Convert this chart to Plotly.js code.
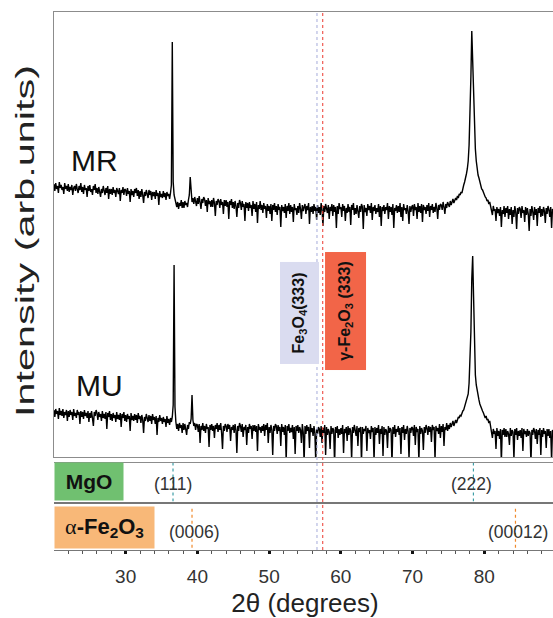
<!DOCTYPE html>
<html><head><meta charset="utf-8">
<script src="https://cdn.plot.ly/plotly-3.0.1.min.js"></script>
<style>html,body{margin:0;padding:0;overflow:hidden;background:#fff;width:553px;height:618px}</style>
</head><body><div id="chart" style="width:556px;height:618px"></div>
<script>
// 2θ sampling of the scans (degrees)
const twoThetaStart = 20;
const twoThetaStep = 0.125;

// MR scan (offset, arb. units), 20.000° … 90.000°, 8 samples per degree
const intensityMR = [
273,266,274,268,271,264,275,269, 272,267,270,263,274,268,271,266,
273,265,270,267,272,262,269,271, 266,273,268,264,271,267,274,265,
270,263,272,267,269,260,271,266, 272,265,268,262,271,267,273,264,
269,263,270,265,260,268,264,271, 267,262,269,264,271,258,268,263,
268,262,270,264,267,260,269,266, 263,269,256,267,264,270,262,268,
267,261,269,263,266,255,268,262, 266,260,268,264,269,261,267,258,
266,260,268,262,254,265,261,267, 264,259,267,262,266,257,265,261,
265,258,267,261,264,252,266,260, 263,259,266,260,264,257,265,261,
263,258,264,272,415,275,262,257, 256,250,255,248,254,251,257,249,
255,249,256,252,254,250,257,262, 280,262,255,259,253,260,256,251,
259,253,261,256,248,258,254,260, 258,251,257,245,259,253,256,250,
257,250,259,254,241,256,252,258, 256,249,258,252,255,243,257,251,
257,250,255,238,256,252,258,249, 255,248,256,251,240,254,249,257,
254,247,256,250,253,236,255,249, 254,246,255,249,252,241,256,248,
253,245,255,234,252,248,256,247, 252,244,254,248,251,239,253,246,
251,243,253,236,252,247,254,245, 251,242,253,247,250,230,252,246,
250,244,253,239,251,246,254,243, 252,245,250,235,253,247,249,242,
251,244,254,248,238,252,246,250, 253,243,251,247,254,233,250,245,
251,243,253,246,250,237,252,244, 250,242,254,247,231,251,245,253,
249,244,252,238,250,246,253,241, 252,245,250,229,251,243,254,248,
250,240,253,246,251,236,249,244, 253,245,250,232,252,247,254,242,
249,243,252,246,239,251,245,253, 250,228,252,245,249,241,253,247,
251,244,254,237,250,246,252,243, 249,245,253,240,251,231,250,246,
252,243,250,247,254,238,251,245, 250,242,253,229,249,246,252,244,
251,245,254,240,250,236,253,247, 249,243,252,246,233,251,245,250,
252,241,253,247,250,238,254,245, 251,244,253,235,252,247,250,243,
252,246,254,240,251,247,253,244, 250,245,254,249,238,252,247,253,
252,247,255,250,243,253,249,255, 253,250,256,252,255,258,254,258,
259,257,261,259,263,262,265,264, 270,272,275,278,283,288,296,312,
340,380,426,392,352,325,308,296, 288,282,279,274,271,268,267,264,
262,260,259,256,257,253,255,250, 249,242,251,246,248,236,250,244,
248,241,250,230,247,243,251,240, 249,244,251,238,248,242,250,233,
247,240,251,245,228,249,243,250, 248,239,251,244,247,235,250,242,
249,243,226,248,241,251,245,237, 250,242,248,231,249,244,251,240,
248,241,250,246,234,249,243,251, 247,240,250,229,248,244,251,242,
246
];

// MU scan (offset, arb. units), 20.000° … 90.000°, 8 samples per degree
const intensityMU = [
47,40,48,43,46,38,49,42, 46,41,48,39,45,42,47,36,
46,40,47,42,45,37,48,41, 44,39,47,42,45,33,46,40,
45,38,47,41,44,39,46,35, 44,39,46,40,31,45,41,47,
44,37,45,40,43,36,46,39, 43,38,45,28,44,40,46,37,
43,36,44,39,42,35,45,38, 42,37,44,30,43,39,45,36,
42,35,43,38,41,26,44,37, 41,36,43,37,42,34,44,38,
41,34,42,37,24,40,36,43, 40,35,42,36,41,33,43,37,
40,33,41,22,39,35,42,36, 39,33,40,35,38,30,41,34,
38,32,39,35,40,52,192,50, 35,28,33,26,34,29,32,24,
34,27,33,29,22,32,28,35, 33,38,62,37,31,34,27,33,
32,25,33,14,31,27,34,26, 31,24,33,28,30,10,32,27,
33,26,31,19,32,28,34,25, 32,27,34,24,8,31,26,33,
31,25,33,28,32,16,30,27, 32,24,33,27,4,31,26,34,
31,25,33,20,30,27,32,12, 30,24,33,28,31,18,32,26,
32,25,31,6,33,27,30,24, 31,26,33,21,32,27,34,14,
30,24,32,27,2,31,26,33, 31,23,32,26,30,11,33,25,
30,22,32,-4,31,26,33,24, 29,25,32,18,30,3,31,26,
32,24,30,27,14,33,25,-6, 31,23,32,26,30,9,33,25,
29,21,31,24,-5,28,23,30, 28,20,31,14,29,24,32,2,
30,22,28,25,8,31,23,29, 27,-8,30,24,31,19,28,22,
29,23,32,4,28,24,30,16, 31,22,29,26,-3,30,24,32,
28,21,31,11,29,25,30,-6, 30,23,28,26,31,6,29,24,
27,18,31,25,29,-4,30,22, 29,24,32,13,28,23,31,1,
30,22,28,26,9,31,24,29, 27,-7,30,23,32,20,28,25,
31,22,29,3,30,24,32,17, 28,23,31,26,-2,29,24,30,
29,21,32,12,30,25,28,-5, 31,23,29,26,7,30,24,32,
29,22,31,25,30,15,32,27, 30,-3,31,26,29,23,33,19,
31,25,33,11,30,27,34,26, 32,28,34,30,33,36,31,35,
37,34,38,40,39,42,41,44, 46,47,50,52,55,58,63,74,
92,125,178,201,160,115,82,72, 66,61,57,53,50,48,46,44,
42,39,41,37,38,34,36,31, 27,19,28,23,26,8,29,21,
26,18,28,-5,27,22,29,20, 28,20,26,23,12,29,21,27,
25,-2,28,22,29,17,26,21, 27,19,29,6,28,23,26,20,
28,21,26,24,-6,27,22,29, 26,18,28,13,27,22,29,2,
27,20,29,23,26,9,28,21, 28,19,26,-4,27,23,29,20,
24
];

const sampleNames = ['MR', 'MU'];

// (333) reference reflections (2θ, degrees)
const refPhaseLabels = ['<b>Fe<sub>3</sub>O<sub>4</sub>(333)</b>', '<b>γ-Fe<sub>2</sub>O<sub>3</sub> (333)</b>'];
const refPhasePositions = [56.67, 57.47];

// MgO substrate reflections
const mgoPositions = [36.60, 78.48];
const mgoIndices = ['(111)', '(222)'];

// α-Fe2O3 reflections
const hematitePositions = [39.25, 84.34];
const hematiteIndices = ['(0006)', '(00012)'];

const FONT = 'Liberation Sans, Arial, Helvetica, sans-serif';
const frameGray = '#8c8c8c';

const traces = [
  {x0: twoThetaStart, dx: twoThetaStep, y: intensityMR, name: sampleNames[0], type: 'scatter', mode: 'lines',
   line: {color: '#000', width: 1.4}, xaxis: 'x', yaxis: 'y', hoverinfo: 'skip'},
  {x0: twoThetaStart, dx: twoThetaStep, y: intensityMU, name: sampleNames[1], type: 'scatter', mode: 'lines',
   line: {color: '#000', width: 1.4}, xaxis: 'x', yaxis: 'y', hoverinfo: 'skip'}
];

const shapes = [];
const refColors = ['#aeb3de', '#ee4b42'];
refPhasePositions.forEach((p, i) => shapes.push({type: 'line', xref: 'x', yref: 'paper', x0: p, x1: p, y0: 0, y1: 1,
  line: {color: refColors[i], width: 1.1, dash: 'dot'}, layer: 'above'}));
mgoPositions.forEach(p => shapes.push({type: 'line', xref: 'x2', yref: 'y2', x0: p, x1: p, y0: 0, y1: 1,
  line: {color: '#3e9fa8', width: 1.2, dash: 'dot'}}));
hematitePositions.forEach(p => shapes.push({type: 'line', xref: 'x3', yref: 'y3', x0: p, x1: p, y0: 0.05, y1: 0.92,
  line: {color: '#f08a2c', width: 1.2, dash: 'dot'}}));

const annotations = [
  {text: sampleNames[0], xref: 'x', yref: 'y', x: 22.1, y: 296, xanchor: 'left', yanchor: 'middle', showarrow: false,
   font: {family: FONT, size: 30, color: '#111'}},
  {text: sampleNames[1], xref: 'x', yref: 'y', x: 22.8, y: 71.5, xanchor: 'left', yanchor: 'middle', showarrow: false,
   font: {family: FONT, size: 30, color: '#111'}},
  {text: refPhaseLabels[0], xref: 'x', yref: 'y', x: 54.30, y: 144.5, textangle: -90, showarrow: false,
   width: 99, height: 36, bgcolor: '#dadcf0', font: {family: FONT, size: 16, color: '#111'}},
  {text: refPhaseLabels[1], xref: 'x', yref: 'y', x: 60.72, y: 145.5, textangle: -90, showarrow: false,
   width: 115, height: 38, bgcolor: '#f26548', font: {family: FONT, size: 16, color: '#111'}},
  {text: '<b>MgO</b>', xref: 'x2', yref: 'y2', x: 24.89, y: 0.52, showarrow: false, width: 66, height: 35,
   bgcolor: '#70c070', font: {family: FONT, size: 21, color: '#111'}},
  {text: '<span style="font-family:\'Liberation Serif\',serif;font-weight:normal">α</span><b>-Fe<sub>2</sub>O<sub>3</sub></b>',
   xref: 'x3', yref: 'y3', x: 27.05, y: 0.484, showarrow: false, width: 97, height: 39,
   bgcolor: '#f8b878', font: {family: FONT, size: 22, color: '#111'}}
];
const mgoShift = [0, -1.5];
mgoIndices.forEach((t, i) => annotations.push({text: t, xref: 'x2', yref: 'y2', x: mgoPositions[i], y: 0.45,
  xshift: mgoShift[i], showarrow: false, font: {family: FONT, size: 17.5, color: '#333'}}));
const hemShift = [2, 3];
hematiteIndices.forEach((t, i) => annotations.push({text: t, xref: 'x3', yref: 'y3', x: hematitePositions[i], y: 0.39,
  xshift: hemShift[i], showarrow: false, font: {family: FONT, size: 17.5, color: '#333'}}));

const hiddenY = {showline: false, showticklabels: false, ticks: '', showgrid: false, zeroline: false, fixedrange: true};
const xRange = [20.01, 89.99];

const layout = {
  width: 556, height: 618,
  margin: {l: 54, r: 0, t: 12, b: 68},
  paper_bgcolor: '#fff', plot_bgcolor: 'rgba(0,0,0,0)',
  showlegend: false,
  font: {family: FONT, color: '#222'},
  xaxis: {range: xRange, anchor: 'y', showline: true, mirror: true, linecolor: frameGray, linewidth: 1.5,
    ticks: '', showticklabels: false, showgrid: false, zeroline: false},
  yaxis: {domain: [0.1729, 1], range: [0, 445], anchor: 'x', showline: true, mirror: true, linecolor: frameGray,
    linewidth: 1.5, showticklabels: false, ticks: '', showgrid: false, zeroline: false,
    title: {text: 'Intensity (arb.units)', font: {family: FONT, size: 26, color: '#222'}, standoff: 12}},
  xaxis2: {range: xRange, anchor: 'y2', showline: true, mirror: true, linecolor: frameGray, linewidth: 1.2,
    ticks: '', showticklabels: false, showgrid: false, zeroline: false},
  yaxis2: Object.assign({domain: [0.0901, 0.1617], range: [0, 1], anchor: 'x2'}, hiddenY),
  xaxis3: {range: xRange, anchor: 'y3', showline: true, mirror: true, linecolor: '#777', linewidth: 1.2,
    tickmode: 'linear', tick0: 30, dtick: 10, ticks: 'outside', ticklen: 3, tickwidth: 3, tickcolor: '#111',
    minor: {dtick: 2, ticks: 'outside', ticklen: 3, tickwidth: 1, tickcolor: '#555'},
    showticklabels: true, tickfont: {family: FONT, size: 19, color: '#333'}, ticklabelstandoff: 6,
    showgrid: false, zeroline: false,
    title: {text: '2θ (degrees)', font: {family: FONT, size: 26, color: '#222'}, standoff: 10}},
  yaxis3: Object.assign({domain: [0, 0.0864], range: [0, 1], anchor: 'x3'}, hiddenY),
  shapes: shapes,
  annotations: annotations
};

Plotly.newPlot('chart', traces, layout, {displayModeBar: false, staticPlot: true}).then(() => {
  // the reference's y title is drawn elongated along its length
  const t = document.querySelector('.ytitle');
  if (!t) return;
  const x = +t.getAttribute('x'), y = +t.getAttribute('y');
  const len = t.getBBox().width;
  const s = 352 / len;
  const base = `rotate(-90,${x},${y}) translate(${x},${y}) scale(${s},1) translate(${-x},${-y})`;
  t.setAttribute('transform', base);
  const r = t.getBoundingClientRect();
  const dx = 25 - (r.left + r.width / 2), dy = 241 - (r.top + r.height / 2);
  t.setAttribute('transform', `translate(${dx},${dy}) ` + base);
});
</script>
</body></html>
